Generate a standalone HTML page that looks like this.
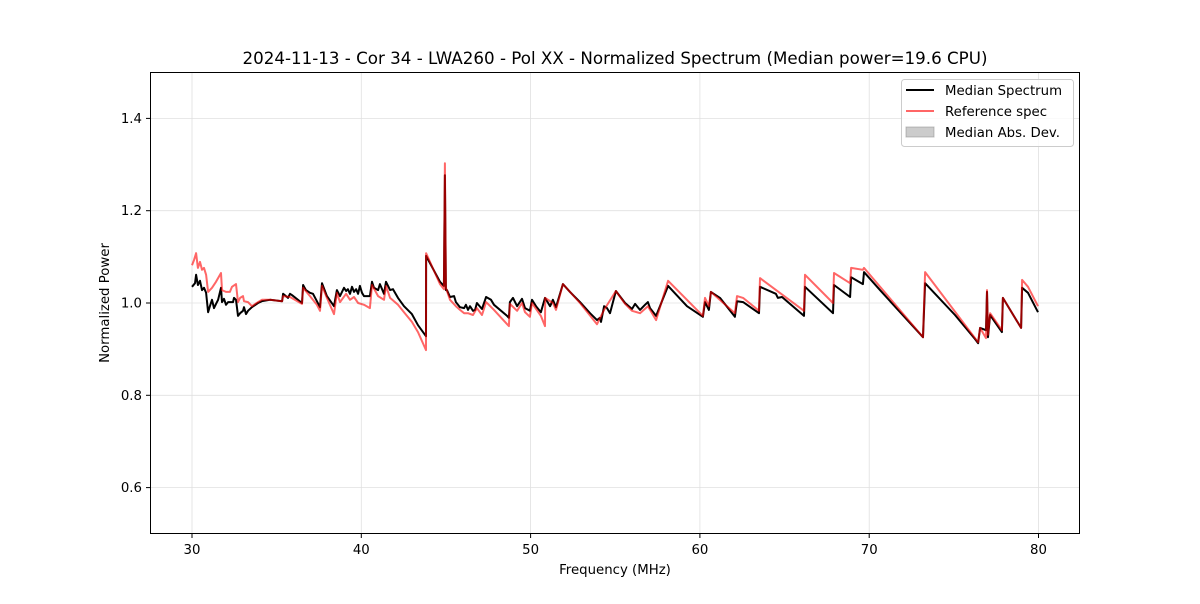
<!DOCTYPE html>
<html><head><meta charset="utf-8"><style>
body{margin:0;background:#fff;font-family:"DejaVu Sans",sans-serif}
</style></head><body>
<svg id="c" width="1200" height="600" xmlns="http://www.w3.org/2000/svg" font-family="DejaVu Sans, sans-serif">
<rect width="1200" height="600" fill="#fff"/>
<g id="grid"></g>
<g id="series"></g>
<rect x="150.5" y="72.5" width="929" height="461" fill="none" stroke="#000" stroke-width="1"/>
<g id="ticks"></g>
<text x="615" y="64" text-anchor="middle" font-size="16.7">2024-11-13 - Cor 34 - LWA260 - Pol XX - Normalized Spectrum (Median power=19.6 CPU)</text>
<text x="615" y="574" text-anchor="middle" font-size="13.3">Frequency (MHz)</text>
<text x="109" y="303" text-anchor="middle" font-size="13.3" transform="rotate(-90 109 303)">Normalized Power</text>
<g>
<rect x="901.5" y="79.5" width="172" height="67" rx="3" fill="#fff" fill-opacity="0.8" stroke="#ccc"/>
<g><line x1="906" y1="90" x2="934" y2="90" stroke="#000" stroke-width="2"/><text x="945" y="95" font-size="13.3">Median Spectrum</text></g>
<g><line x1="906" y1="111" x2="934" y2="111" stroke="#f00" stroke-opacity="0.6" stroke-width="2"/><text x="945" y="116" font-size="13.3">Reference spec</text></g>
<g><rect x="906" y="127" width="28" height="10" fill="#000" fill-opacity="0.2" stroke="#888" stroke-opacity="0.5"/><text x="945" y="137" font-size="13.3">Median Abs. Dev.</text></g>
</g>
</svg>
<script>
const xTicks=[30,40,50,60,70,80];
const yTicks=[0.6,0.8,1.0,1.2,1.4];
const medFreq=[30.00,30.18,30.24,30.35,30.47,30.59,30.71,30.83,30.95,31.06,31.18,31.30,31.42,31.54,31.71,31.77,31.89,32.01,32.13,32.42,32.48,32.60,32.72,32.84,33.01,33.07,33.19,33.31,33.54,33.90,34.13,34.61,35.32,35.38,35.55,35.67,35.79,35.91,36.50,36.56,36.73,36.97,37.15,37.38,37.56,37.68,37.97,38.39,38.56,38.74,38.98,39.10,39.21,39.33,39.45,39.57,39.69,39.81,39.92,40.04,40.16,40.51,40.63,40.75,40.99,41.10,41.34,41.46,41.70,41.87,42.17,42.52,42.99,43.35,43.82,43.83,44.65,44.88,44.94,45.00,45.06,45.24,45.48,45.59,45.83,46.07,46.18,46.30,46.42,46.60,46.72,46.83,47.13,47.37,47.66,47.84,48.61,48.72,48.78,48.96,49.20,49.49,49.67,49.96,50.08,50.32,50.61,50.85,51.15,51.32,51.50,51.91,52.33,52.92,53.51,53.92,54.10,54.16,54.34,54.51,54.69,55.04,55.58,55.99,56.17,56.46,56.76,56.93,57.05,57.41,58.12,59.24,60.18,60.30,60.53,60.65,61.19,62.07,62.19,62.55,63.49,63.55,64.49,64.61,64.85,66.15,66.21,67.86,67.92,68.87,68.93,69.63,69.69,70.64,73.18,73.30,75.07,76.25,76.43,76.55,76.90,76.96,77.02,77.14,77.84,77.90,78.97,79.03,79.38,79.97];
const medPower=[1.035,1.043,1.061,1.039,1.048,1.028,1.033,1.022,0.980,0.993,1.007,0.989,0.998,1.007,1.033,1.002,1.009,0.996,1.002,1.002,1.011,1.007,0.972,0.978,0.983,0.991,0.976,0.983,0.991,1.000,1.004,1.007,1.004,1.020,1.015,1.011,1.020,1.017,1.000,1.039,1.028,1.022,1.020,1.004,0.991,1.043,1.015,0.993,1.028,1.015,1.033,1.026,1.030,1.020,1.035,1.024,1.030,1.020,1.037,1.022,1.015,1.015,1.046,1.033,1.028,1.041,1.020,1.046,1.028,1.030,1.011,0.993,0.976,0.952,0.928,1.102,1.046,1.037,1.277,1.028,1.028,1.013,1.015,1.002,0.991,0.989,0.996,0.985,0.993,0.983,0.985,1.000,0.987,1.013,1.007,0.996,0.972,0.968,1.002,1.011,0.993,1.009,0.989,0.983,1.007,0.993,0.980,1.011,0.993,1.007,0.991,1.041,1.024,1.002,0.978,0.963,0.968,0.959,0.993,0.989,0.978,1.026,1.000,0.987,0.998,0.985,0.996,1.002,0.989,0.972,1.037,0.993,0.970,1.002,0.985,1.024,1.011,0.970,1.004,1.002,0.978,1.035,1.020,1.011,1.013,0.972,1.035,0.978,1.039,1.013,1.056,1.041,1.067,1.028,0.926,1.043,0.974,0.922,0.913,0.946,0.941,1.024,0.926,0.974,0.937,1.011,0.946,1.033,1.022,0.980];
const refFreq=[30.00,30.12,30.24,30.35,30.47,30.59,30.71,30.83,30.95,31.18,31.42,31.71,31.77,32.01,32.24,32.36,32.60,32.72,32.84,33.01,33.07,33.31,33.54,33.90,34.13,34.61,35.32,35.38,35.79,36.50,36.56,36.97,37.38,37.56,37.68,37.97,38.39,38.56,38.74,39.10,39.33,39.57,39.81,40.16,40.51,40.63,40.99,41.34,41.46,41.70,42.17,42.52,42.99,43.35,43.82,43.83,44.65,44.88,44.94,45.00,45.24,45.59,45.83,46.07,46.30,46.60,46.83,47.13,47.37,47.84,48.61,48.72,48.78,49.20,49.49,49.67,49.96,50.08,50.61,50.85,50.86,51.32,51.50,51.91,52.92,53.92,54.34,55.04,55.58,55.99,56.46,56.93,57.41,58.12,60.18,60.30,60.53,60.65,62.07,62.19,62.55,63.49,63.55,66.15,66.21,67.86,67.92,68.87,68.93,69.63,69.69,73.18,73.30,76.43,76.55,76.90,76.96,77.02,77.14,77.84,77.90,78.97,79.03,79.38,79.97];
const refPower=[1.082,1.093,1.108,1.076,1.089,1.072,1.076,1.061,1.024,1.033,1.046,1.065,1.028,1.024,1.024,1.035,1.041,1.002,1.011,1.015,1.004,1.002,0.993,1.002,1.007,1.007,1.004,1.015,1.013,0.998,1.033,1.015,0.996,0.983,1.037,1.011,0.976,1.022,1.002,1.020,1.007,1.013,1.000,0.996,0.989,1.039,1.015,1.007,1.037,1.011,0.996,0.980,0.959,0.937,0.898,1.108,1.041,1.030,1.303,1.033,1.007,0.993,0.985,0.978,0.978,0.974,0.989,0.974,1.002,0.985,0.954,0.950,0.998,0.983,1.000,0.980,0.970,1.000,0.972,0.950,1.011,1.000,0.985,1.041,1.000,0.954,0.985,1.026,0.998,0.983,0.978,0.993,0.963,1.048,0.972,1.011,0.993,1.024,0.978,1.015,1.011,0.983,1.054,0.983,1.061,1.000,1.065,1.043,1.076,1.072,1.076,0.926,1.067,0.915,0.946,0.924,1.028,0.931,0.978,0.941,1.011,0.946,1.050,1.035,0.993];

const NS='http://www.w3.org/2000/svg';
const X=f=>192+(f-30)*16.93;
const Y=v=>303-(v-1)*461.5;
const grid=document.getElementById('grid'),ticks=document.getElementById('ticks'),series=document.getElementById('series');
function mk(tag,attrs,parent){const e=document.createElementNS(NS,tag);for(const k in attrs)e.setAttribute(k,attrs[k]);parent.appendChild(e);return e;}
xTicks.forEach(t=>{
  const x=X(t);
  const g=mk('line',{x1:x,x2:x,y1:72,y2:534,stroke:'#e0e0e0','stroke-width':0.8},grid);
  
  
  const tk=mk('line',{x1:x,x2:x,y1:534,y2:538,stroke:'#000'},ticks);
  
  
  const tx=mk('text',{x:x,y:554,'text-anchor':'middle','font-size':13.3},ticks);
  tx.textContent=t;
  
  
});
yTicks.forEach(t=>{
  const y=Y(t);
  const g=mk('line',{x1:150,x2:1080,y1:y,y2:y,stroke:'#e0e0e0','stroke-width':0.8},grid);
  
  
  const tk=mk('line',{x1:146,x2:150,y1:y,y2:y,stroke:'#000'},ticks);
  
  
  const tx=mk('text',{x:142,y:y+4.5,'text-anchor':'end','font-size':13.3},ticks);
  tx.textContent=t.toFixed(1);
  
  
});
function pts(fs,vs){return fs.map((f,i)=>X(f).toFixed(1)+','+Y(vs[i]).toFixed(1)).join(' ');}
const med=mk('polyline',{points:pts(medFreq,medPower),fill:'none',stroke:'#000','stroke-width':2,'stroke-linejoin':'round'},series);


const ref=mk('polyline',{points:pts(refFreq,refPower),fill:'none',stroke:'#f00','stroke-opacity':0.6,'stroke-width':2,'stroke-linejoin':'round'},series);


</script>
</body></html>
